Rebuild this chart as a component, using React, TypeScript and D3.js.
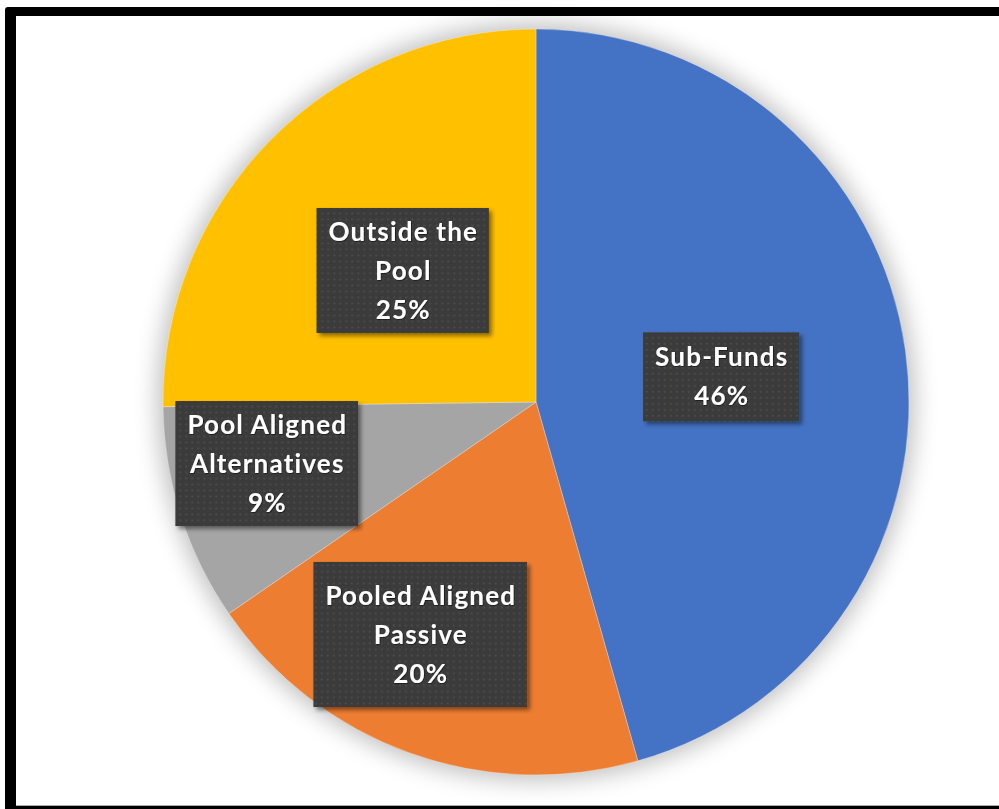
import { useEffect, useRef } from 'react';
import * as d3 from 'd3';

const WIDTH = 999;
const HEIGHT = 809;

// slice data, clockwise from 12 o'clock
const categories = ['Sub-Funds', 'Pooled Aligned Passive', 'Pool Aligned Alternatives', 'Outside the Pool'];
const shares = [45.6, 19.8, 9.4, 25.2];
const colors = ['#4472C4', '#ED7D31', '#A5A5A5', '#FFC000'];
// label text lines (the percentage is appended)
const labelLines = [['Sub-Funds'], ['Pooled Aligned', 'Passive'], ['Pool Aligned', 'Alternatives'], ['Outside the', 'Pool']];

// label box nudges away from the centroid, like Excel's best fit
const LABEL_NUDGE = [
  { dx: 1, dy: 0.5, padY: 5.5 },
  { dx: -52, dy: 57, padY: 14 },
  { dx: -91, dy: 5, padY: 4 },
  { dx: 0, dy: -0.5, padY: 4 },
];

const CX = 536;
const CY = 402;
const R = 373;
const LINE_H = 39;
const PAD_X = 12;

export default function App() {
  const svgRef = useRef<SVGSVGElement>(null);

  useEffect(() => {
    if (!svgRef.current) return;
    const svg = d3.select(svgRef.current);
    svg.selectAll('*').remove();

    const defs = svg.append('defs');
    const glow = defs.append('filter').attr('id', 'glow').attr('x', '-20%').attr('y', '-20%').attr('width', '140%').attr('height', '140%');
    glow.append('feGaussianBlur').attr('stdDeviation', 12);

    const boxShadow = defs.append('filter').attr('id', 'boxShadow').attr('x', '-10%').attr('y', '-10%').attr('width', '130%').attr('height', '130%');
    boxShadow.append('feDropShadow').attr('dx', 3).attr('dy', 3).attr('stdDeviation', 2).attr('flood-color', '#000').attr('flood-opacity', 0.45);

    const textShadow = defs.append('filter').attr('id', 'textShadow');
    textShadow.append('feDropShadow').attr('dx', 0.6).attr('dy', 0.6).attr('stdDeviation', 0.6).attr('flood-color', '#000').attr('flood-opacity', 0.8);

    const dots = defs.append('pattern').attr('id', 'dots').attr('width', 6).attr('height', 6).attr('patternUnits', 'userSpaceOnUse');
    dots.append('rect').attr('width', 6).attr('height', 6).attr('fill', '#3a3a3a');
    dots.append('circle').attr('cx', 3).attr('cy', 3).attr('r', 1.1).attr('fill', '#4e4e4e');

    // frame
    svg.append('rect').attr('width', WIDTH).attr('height', HEIGHT).attr('fill', '#fff');
    svg.append('rect').attr('x', 5).attr('y', 7).attr('width', 1010).attr('height', 820).attr('rx', 3).attr('fill', '#000');
    svg.append('rect').attr('x', 16).attr('y', 16).attr('width', 990).attr('height', 789).attr('fill', '#fff');
    svg.append('line').attr('x1', 16).attr('x2', WIDTH).attr('y1', 805.5).attr('y2', 805.5).attr('stroke', '#aaa');

    const g = svg.append('g').attr('transform', `translate(${CX},${CY})`);

    // soft shadow round the pie
    g.append('circle').attr('r', R + 5).attr('fill', '#000').attr('opacity', 0.26).attr('filter', 'url(#glow)');

    const pie = d3.pie<number>().sort(null).value((d) => d);
    const arcs = pie(shares);
    const arc = d3.arc<d3.PieArcDatum<number>>().innerRadius(0).outerRadius(R);
    const labelArc = d3.arc<d3.PieArcDatum<number>>().innerRadius(R * 0.5).outerRadius(R * 0.5);

    g.selectAll('path.slice')
      .data(arcs)
      .join('path')
      .attr('class', 'slice')
      .attr('d', arc)
      .attr('fill', (_, i) => colors[i])
      .attr('stroke', '#fff')
      .attr('stroke-opacity', 0.5)
      .attr('stroke-width', 0.6);

    arcs.forEach((a, i) => {
      const [lx, ly] = labelArc.centroid(a);
      const nudge = LABEL_NUDGE[i];
      const x = lx + nudge.dx;
      const y = ly + nudge.dy;
      const lines = [...labelLines[i], `${Math.round(shares[i])}%`];
      const lg = g.append('g').attr('transform', `translate(${x},${y})`);
      const rect = lg.append('rect').attr('fill', 'url(#dots)').attr('filter', 'url(#boxShadow)');
      const text = lg
        .append('text')
        .attr('text-anchor', 'middle')
        .attr('fill', '#fff')
        .attr('filter', 'url(#textShadow)')
        .style('font-family', 'Lato, "Open Sans", sans-serif')
        .style('font-weight', 700)
        .style('font-size', '26px')
        .style('letter-spacing', '1.2px');
      const top = -((lines.length - 1) * LINE_H) / 2;
      lines.forEach((line, k) => {
        text
          .append('tspan')
          .attr('x', 0)
          .attr('y', top + k * LINE_H)
          .attr('dy', '0.35em')
          .text(line);
      });
      const bb = (text.node() as SVGTextElement).getBBox();
      const h = lines.length * LINE_H + nudge.padY * 2;
      rect
        .attr('x', bb.x - PAD_X)
        .attr('y', -h / 2)
        .attr('width', bb.width + PAD_X * 2 - 1.2)
        .attr('height', h);
    });
  }, []);

  return (
    <svg
      ref={svgRef}
      width={WIDTH}
      height={HEIGHT}
      style={{ position: 'absolute', left: 0, top: 0, display: 'block' }}
    />
  );
}
